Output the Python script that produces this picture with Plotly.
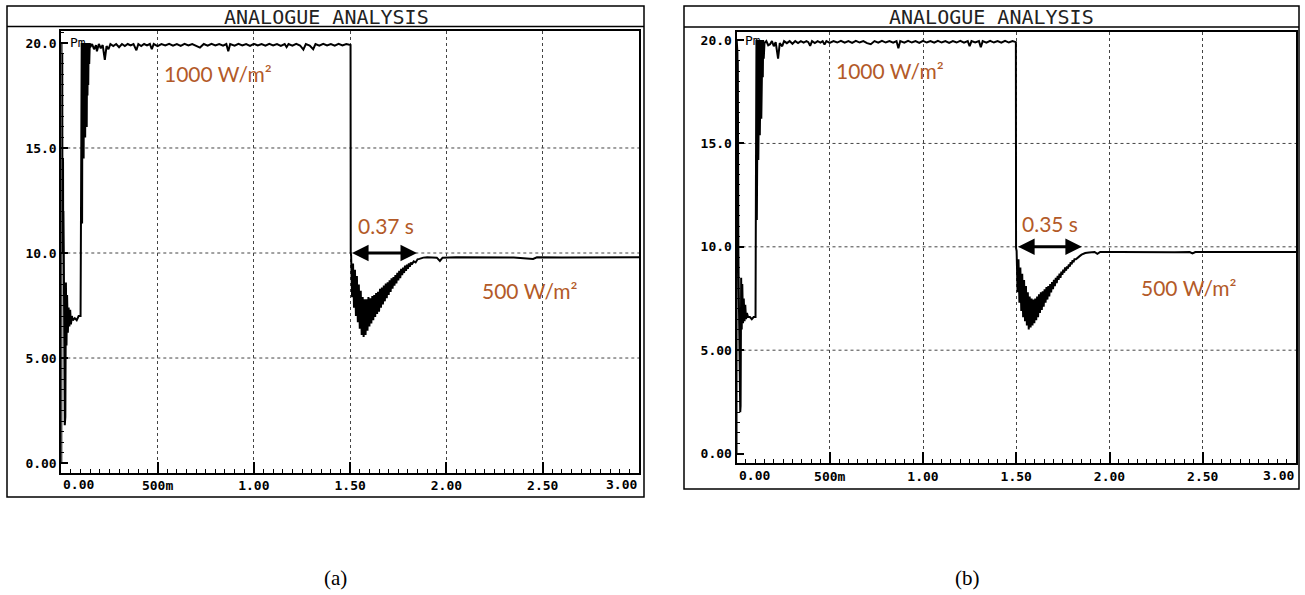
import plotly.graph_objects as go

W, H = 1305, 595

# ---------------- data: panel (a) ----------------
t_a_start = [0.000, 0.001, 0.002, 0.003, 0.004, 0.005, 0.006, 0.007, 0.008, 0.009, 0.010, 0.011, 0.013, 0.018,
             0.021, 0.024, 0.027, 0.030, 0.034, 0.038, 0.042, 0.046, 0.050, 0.055, 0.060, 0.070, 0.080, 0.090, 0.100,
             0.104, 0.106, 0.108, 0.110, 0.112, 0.114, 0.116, 0.118, 0.120, 0.122, 0.124, 0.126, 0.128, 0.130,
             0.132, 0.134, 0.136, 0.138, 0.140, 0.142, 0.145, 0.148]
p_a_start = [0.0, 20.0, 10.5, 19.8, 11.0, 19.5, 10.2, 19.0, 10.5, 14.5, 10.0, 12.0, 10.0, 1.8,
             2.2, 8.6, 5.6, 8.0, 6.2, 7.4, 6.5, 7.3, 6.6, 7.0, 6.8, 6.9, 6.8, 7.0, 7.0,
             15.5, 20.0, 11.4, 20.0, 15.0, 20.0, 14.5, 20.0, 16.0, 20.0, 15.5, 20.0, 17.0, 20.0,
             16.0, 20.0, 17.5, 20.0, 18.0, 20.0, 19.0, 20.0]
t_a_high = [0.150, 0.160, 0.170, 0.180, 0.185, 0.195, 0.205, 0.215, 0.226, 0.235, 0.245, 0.255, 0.270, 0.285,
            0.300, 0.315, 0.330, 0.345, 0.360, 0.375, 0.390, 0.400, 0.415, 0.430, 0.445, 0.460, 0.470, 0.480,
            0.500, 0.520, 0.540, 0.560, 0.580, 0.600, 0.620, 0.640, 0.660, 0.680, 0.700, 0.720, 0.740, 0.760,
            0.780, 0.800, 0.820, 0.840, 0.857, 0.867, 0.877, 0.900, 0.920, 0.940, 0.960, 0.980, 1.000, 1.020,
            1.040, 1.060, 1.080, 1.100, 1.120, 1.140, 1.160, 1.170, 1.180, 1.200, 1.220, 1.240, 1.257, 1.270,
            1.290, 1.308, 1.320, 1.340, 1.360, 1.380, 1.400, 1.420, 1.440, 1.460, 1.480, 1.502]
p_a_high = [19.80, 19.95, 19.70, 19.90, 19.60, 19.95, 19.75, 19.90, 19.20, 19.85, 19.70, 19.95, 19.85, 19.95,
            19.80, 19.95, 19.85, 19.95, 19.88, 19.95, 19.65, 19.95, 19.85, 19.95, 19.88, 19.95, 19.70, 19.95,
            19.85, 19.95, 19.88, 19.96, 19.87, 19.95, 19.86, 19.96, 19.88, 19.95, 19.85, 19.78, 19.95, 19.87,
            19.96, 19.88, 19.95, 19.87, 19.95, 19.60, 19.95, 19.87, 19.96, 19.88, 19.95, 19.86, 19.96, 19.88,
            19.95, 19.87, 19.96, 19.88, 19.95, 19.86, 19.95, 19.80, 19.95, 19.87, 19.96, 19.88, 19.68, 19.95,
            19.88, 19.70, 19.95, 19.87, 19.96, 19.88, 19.95, 19.87, 19.96, 19.88, 19.95, 19.90]
t_a_low = [1.503, 1.505, 1.510, 1.515, 1.520, 1.525, 1.530, 1.535, 1.540, 1.545, 1.550, 1.555, 1.560, 1.565,
           1.570, 1.575, 1.580, 1.585, 1.590, 1.595, 1.600, 1.605, 1.610, 1.615, 1.620, 1.625, 1.630, 1.635,
           1.640, 1.645, 1.650, 1.655, 1.660, 1.665, 1.670, 1.675, 1.680, 1.685, 1.690, 1.695, 1.700, 1.705,
           1.710, 1.715, 1.720, 1.725, 1.730, 1.735, 1.740, 1.745, 1.750, 1.755, 1.760, 1.765, 1.770, 1.775,
           1.780, 1.785, 1.790, 1.795, 1.800, 1.805, 1.810, 1.815, 1.820, 1.830, 1.840, 1.850, 1.860, 1.870,
           1.880, 1.900, 1.950, 1.966, 1.980, 2.050, 2.150, 2.250, 2.350, 2.450, 2.470, 2.600, 2.750, 2.850,
           2.950, 3.000]
p_a_low = [10.0, 9.9, 7.9, 9.5, 7.4, 9.2, 7.0, 8.9, 6.7, 8.5, 6.4, 8.2, 6.1, 7.9,
           6.0, 7.8, 6.1, 7.8, 6.3, 7.9, 6.5, 7.85, 6.65, 7.95, 6.8, 8.0, 6.95, 8.1,
           7.1, 8.15, 7.2, 8.3, 7.4, 8.35, 7.55, 8.45, 7.7, 8.55, 7.85, 8.6, 8.0, 8.7,
           8.15, 8.8, 8.3, 8.85, 8.45, 8.95, 8.55, 9.05, 8.7, 9.15, 8.8, 9.25, 8.95, 9.3,
           9.05, 9.4, 9.15, 9.45, 9.25, 9.5, 9.35, 9.55, 9.45, 9.6, 9.55, 9.7, 9.72, 9.77,
           9.78, 9.8, 9.78, 9.62, 9.78, 9.8, 9.79, 9.8, 9.79, 9.72, 9.8, 9.79, 9.8, 9.78,
           9.8, 9.8]

# ---------------- data: panel (b) ----------------
t_b_start = [0.000, 0.001, 0.002, 0.003, 0.004, 0.005, 0.006, 0.007, 0.008, 0.009, 0.010, 0.012, 0.016, 0.020,
             0.022, 0.025, 0.028, 0.031, 0.035, 0.039, 0.043, 0.047, 0.051, 0.056, 0.062, 0.072, 0.082, 0.092, 0.102,
             0.105, 0.107, 0.109, 0.111, 0.113, 0.115, 0.117, 0.119, 0.121, 0.123, 0.125, 0.127, 0.129, 0.131,
             0.133, 0.135, 0.137, 0.139, 0.141, 0.143, 0.146]
p_b_start = [0.0, 20.0, 10.3, 19.7, 10.8, 19.4, 10.0, 19.0, 10.4, 14.0, 10.0, 8.0, 4.4, 2.0,
             2.3, 8.5, 6.0, 8.2, 6.3, 7.5, 6.4, 7.2, 6.5, 6.8, 6.6, 6.6, 6.5, 6.6, 6.6,
             15.2, 20.0, 11.3, 20.0, 14.8, 20.0, 14.2, 20.0, 15.8, 20.0, 15.4, 20.0, 16.8, 20.0,
             16.2, 20.0, 17.6, 20.0, 18.2, 20.0, 19.1]
t_b_high = [0.150, 0.160, 0.170, 0.180, 0.190, 0.200, 0.210, 0.223, 0.232, 0.245, 0.255, 0.270, 0.285,
            0.300, 0.315, 0.330, 0.345, 0.360, 0.375, 0.385, 0.395, 0.405, 0.420, 0.435, 0.450, 0.462, 0.472,
            0.482, 0.500, 0.520, 0.540, 0.560, 0.580, 0.600, 0.620, 0.640, 0.660, 0.680, 0.700, 0.720, 0.740,
            0.760, 0.780, 0.800, 0.820, 0.840, 0.858, 0.868, 0.878, 0.900, 0.920, 0.940, 0.960, 0.980, 1.000,
            1.020, 1.040, 1.060, 1.080, 1.100, 1.120, 1.140, 1.160, 1.180, 1.200, 1.220, 1.240, 1.250, 1.260,
            1.280, 1.300, 1.310, 1.320, 1.340, 1.360, 1.380, 1.400, 1.420, 1.440, 1.460, 1.480, 1.498]
p_b_high = [19.85, 19.95, 19.75, 19.80, 19.95, 19.70, 19.90, 19.10, 19.85, 19.70, 19.95, 19.85, 19.95,
            19.82, 19.95, 19.86, 19.95, 19.88, 19.95, 19.90, 19.72, 19.95, 19.86, 19.95, 19.88, 19.95, 19.78,
            19.95, 19.86, 19.95, 19.88, 19.96, 19.87, 19.95, 19.86, 19.96, 19.88, 19.95, 19.85, 19.80, 19.95,
            19.87, 19.96, 19.88, 19.95, 19.87, 19.95, 19.60, 19.95, 19.87, 19.96, 19.88, 19.95, 19.86, 19.96,
            19.88, 19.95, 19.87, 19.96, 19.88, 19.95, 19.86, 19.95, 19.88, 19.96, 19.87, 19.95, 19.70, 19.95,
            19.88, 19.95, 19.65, 19.95, 19.87, 19.96, 19.88, 19.95, 19.87, 19.96, 19.88, 19.95, 19.90]
t_b_low = [1.499, 1.502, 1.507, 1.512, 1.517, 1.522, 1.527, 1.532, 1.537, 1.542, 1.547, 1.552, 1.557, 1.562,
           1.567, 1.572, 1.577, 1.582, 1.587, 1.592, 1.597, 1.602, 1.607, 1.612, 1.617, 1.622, 1.627, 1.632,
           1.637, 1.642, 1.647, 1.652, 1.657, 1.662, 1.667, 1.672, 1.677, 1.682, 1.687, 1.692, 1.697, 1.702,
           1.707, 1.712, 1.717, 1.722, 1.727, 1.732, 1.737, 1.742, 1.747, 1.752, 1.757, 1.762, 1.767, 1.772,
           1.777, 1.782, 1.787, 1.792, 1.797, 1.802, 1.807, 1.812, 1.820, 1.830, 1.840, 1.850, 1.860, 1.870,
           1.890, 1.920, 1.935, 1.950, 2.050, 2.150, 2.250, 2.350, 2.430, 2.445, 2.460, 2.600, 2.750, 2.850,
           2.950, 3.000]
p_b_low = [9.93, 9.8, 7.8, 9.4, 7.3, 9.0, 6.9, 8.7, 6.6, 8.4, 6.4, 8.1, 6.2, 7.8,
           6.0, 7.6, 6.1, 7.5, 6.2, 7.45, 6.3, 7.5, 6.45, 7.6, 6.6, 7.7, 6.8, 7.8,
           6.95, 7.85, 7.1, 7.95, 7.3, 8.05, 7.45, 8.1, 7.6, 8.2, 7.8, 8.3, 7.95, 8.4,
           8.1, 8.5, 8.25, 8.6, 8.4, 8.7, 8.5, 8.8, 8.65, 8.9, 8.75, 9.0, 8.85, 9.05,
           8.95, 9.15, 9.05, 9.25, 9.15, 9.35, 9.25, 9.4, 9.4, 9.5, 9.55, 9.62, 9.68, 9.7,
           9.73, 9.75, 9.66, 9.75, 9.75, 9.74, 9.75, 9.74, 9.75, 9.68, 9.75, 9.74, 9.75, 9.74,
           9.75, 9.75]

t_a = t_a_start + t_a_high + t_a_low
p_a = p_a_start + p_a_high + p_a_low
t_b = t_b_start + t_b_high + t_b_low
p_b = p_b_start + p_b_high + p_b_low

x_tick_vals = [0.0, 0.5, 1.0, 1.5, 2.0, 2.5, 3.0]
x_tick_text = ["", "500m", "1.00", "1.50", "2.00", "2.50", ""]
x_edge_labels = [(0.0, "0.00", "left"), (3.0, "3.00", "right")]
y_tick_vals = [0, 5, 10, 15, 20]
y_tick_text = ["0.00", "5.00", "10.0", "15.0", "20.0"]
y_grid_vals = [5, 10, 15]

title_text = "ANALOGUE ANALYSIS"
irr_high = "1000 W/m²"
irr_low = "500 W/m²"
settle_a = "0.37 s"
settle_b = "0.35 s"
settle_end_a = 1.847
settle_end_b = 1.852
step_time = 1.502
arrow_level = 10.0

# ---------------- layout helpers ----------------
def px(x):
    return x / W

def py(y):
    return 1 - y / H

mono = "DejaVu Sans Mono"
brown = "#B35A28"
tick_font = dict(family=mono, size=13, color="black", weight="bold")


def xaxis(domain, anchor):
    return dict(domain=domain, anchor=anchor, range=[0, 3.0], tickmode="array",
                tickvals=x_tick_vals, ticktext=x_tick_text, ticks="inside", ticklen=11,
                tickwidth=1.5, tickcolor="black", showline=True, linecolor="black", linewidth=2,
                mirror=True, showgrid=True, gridcolor="#444", griddash="dot", gridwidth=1,
                zeroline=False, tickangle=0, automargin=False,
                tickfont=tick_font,
                minor=dict(tickmode="linear", tick0=0, dtick=0.05, ticks="inside", ticklen=4,
                           tickcolor="black", tickwidth=1.2, showgrid=False),
                fixedrange=True)


def yaxis(domain, anchor, rng):
    return dict(domain=domain, anchor=anchor, range=rng, tickmode="array",
                tickvals=y_tick_vals, ticktext=y_tick_text, ticks="inside", ticklen=7,
                tickwidth=1.5, tickcolor="black", showline=True, linecolor="black", linewidth=2,
                mirror=True, showgrid=False, zeroline=False, automargin=False,
                tickfont=tick_font,
                minor=dict(tickmode="linear", tick0=0, dtick=0.5, ticks="inside", ticklen=3,
                           tickcolor="black", tickwidth=1, showgrid=False),
                fixedrange=True)


fig = go.Figure()
fig.add_trace(go.Scatter(x=t_a, y=p_a, mode="lines", line=dict(color="black", width=2),
                         xaxis="x", yaxis="y", hoverinfo="skip"))
fig.add_trace(go.Scatter(x=t_b, y=p_b, mode="lines", line=dict(color="black", width=2),
                         xaxis="x2", yaxis="y2", hoverinfo="skip"))

shapes = []
# outer frames and title bars
for (x0, x1, y0, y1, yt) in [(7, 644, 6, 497, 26.5), (684, 1299, 6, 489, 27)]:
    shapes.append(dict(type="rect", xref="paper", yref="paper", x0=px(x0), x1=px(x1),
                       y0=py(y1), y1=py(y0), line=dict(color="black", width=1.5)))
    shapes.append(dict(type="line", xref="paper", yref="paper", x0=px(x0), x1=px(x1),
                       y0=py(yt), y1=py(yt), line=dict(color="black", width=1.5)))
# horizontal dotted grid
for xr, yr in [("x domain", "y"), ("x2 domain", "y2")]:
    for v in y_grid_vals:
        shapes.append(dict(type="line", xref=xr, yref=yr, x0=0, x1=1, y0=v, y1=v,
                           line=dict(color="#444", width=1, dash="dot"), layer="below"))

annotations = []


def label(text, x, y, font):
    return dict(text=text, xref="paper", yref="paper", x=px(x), y=py(y), showarrow=False,
                xanchor="center", yanchor="middle", font=font)


# first / last time labels aligned to the plot edges, as in the reference
for xr, yr in [("x", "y domain"), ("x2", "y2 domain")]:
    for xv, txt, anchor in x_edge_labels:
        annotations.append(dict(text=txt, xref=xr, yref=yr, x=xv, y=0, xanchor=anchor,
                                yanchor="top", yshift=-3, showarrow=False, font=tick_font))

for xc in [326, 991]:
    annotations.append(label(title_text, xc, 16.5, dict(family=mono, size=20, color="#222")))
for xr, yr in [("x domain", "y"), ("x2 domain", "y2")]:
    annotations.append(dict(text="Pm", xref=xr, yref=yr, x=0.012, y=20, xanchor="left",
                            yanchor="middle", showarrow=False,
                            font=dict(family=mono, size=13, color="black")))

txt_font = dict(family="Lato", size=21, color=brown)
annotations += [
    label(irr_high, 218, 73, txt_font),
    label(settle_a, 386, 225, txt_font),
    label(irr_low, 530, 290, txt_font),
    label(irr_high, 890, 70, txt_font),
    label(settle_b, 1050, 223, txt_font),
    label(irr_low, 1189, 287, txt_font),
]
for xr, yr, xend in [("x", "y", settle_end_a), ("x2", "y2", settle_end_b)]:
    annotations.append(dict(text="", xref=xr, yref=yr, axref=xr, ayref=yr, x=xend, y=arrow_level,
                            ax=step_time, ay=arrow_level, showarrow=True, arrowhead=2,
                            startarrowhead=2, arrowside="end+start", arrowsize=1.1,
                            startarrowsize=1.1, arrowwidth=3, arrowcolor="black",
                            standoff=0, startstandoff=0))
for lbl, xc in [("(a)", 335), ("(b)", 968)]:
    annotations.append(label(lbl, xc, 578, dict(family="Liberation Serif", size=21, color="black")))

fig.update_layout(
    width=W, height=H, margin=dict(l=0, r=0, t=0, b=0, autoexpand=False),
    paper_bgcolor="white", plot_bgcolor="white", showlegend=False,
    xaxis=xaxis([px(61.3), px(639)], "y"),
    yaxis=yaxis([py(472.5), py(31)], "x", [-0.45, 20.57]),
    xaxis2=xaxis([px(736.5), px(1296)], "y2"),
    yaxis2=yaxis([py(463.3), py(32)], "x2", [-0.47, 20.39]),
    shapes=shapes, annotations=annotations,
)

fig.write_html("out.html")
